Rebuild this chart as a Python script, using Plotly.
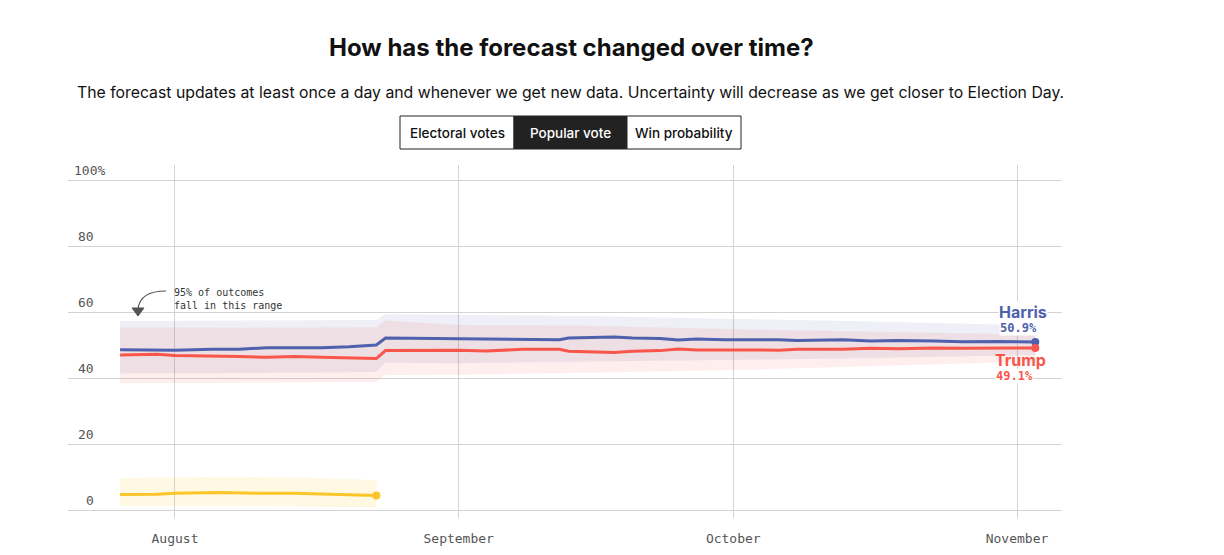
import plotly.graph_objects as go


# ---- data ----
line_dates = [
    "2024-07-26", "2024-07-30", "2024-08-01", "2024-08-05", "2024-08-08",
    "2024-08-11", "2024-08-14", "2024-08-17", "2024-08-20", "2024-08-23",
    "2024-08-24", "2024-08-27", "2024-09-01", "2024-09-04", "2024-09-08",
    "2024-09-12", "2024-09-13", "2024-09-18", "2024-09-20", "2024-09-23",
    "2024-09-25", "2024-09-27", "2024-09-30", "2024-10-03", "2024-10-06",
    "2024-10-08", "2024-10-13", "2024-10-16", "2024-10-19", "2024-10-23",
    "2024-10-26", "2024-10-30", "2024-11-03",
]
harris = [
    48.6, 48.5, 48.4, 48.7, 48.7, 49.2, 49.1, 49.2, 49.5, 50.0,
    52.1, 52.0, 51.8, 51.9, 51.6, 51.6, 52.1, 52.4, 52.1, 52.0,
    51.5, 51.8, 51.6, 51.7, 51.6, 51.4, 51.6, 51.2, 51.4, 51.2,
    51.0, 51.1, 50.9,
]
trump = [
    47.0, 47.2, 46.8, 46.7, 46.5, 46.3, 46.5, 46.3, 46.2, 45.9,
    48.3, 48.4, 48.4, 48.2, 48.7, 48.7, 48.1, 47.7, 48.1, 48.3,
    48.8, 48.5, 48.6, 48.5, 48.4, 48.7, 48.7, 49.0, 48.9, 49.1,
    49.0, 49.1, 49.1,
]

band_dates = [
    "2024-07-26", "2024-08-08", "2024-08-23", "2024-08-24", "2024-09-01",
    "2024-09-15", "2024-10-01", "2024-10-15", "2024-11-03",
]
harris_hi = [57.3, 57.5, 57.6, 59.3, 59.1, 58.8, 57.9, 57.2, 55.9]
harris_lo = [41.4, 41.5, 41.8, 44.6, 44.5, 44.8, 45.5, 46.0, 47.0]
trump_hi = [55.3, 55.2, 55.4, 57.4, 56.1, 55.8, 54.8, 54.2, 53.2]
trump_lo = [38.4, 38.6, 38.8, 40.9, 41.0, 41.6, 42.4, 43.5, 45.0]

other_dates = [
    "2024-07-26", "2024-07-30", "2024-08-01", "2024-08-06", "2024-08-10",
    "2024-08-14", "2024-08-19", "2024-08-22", "2024-08-23",
]
other = [4.7, 4.8, 5.1, 5.3, 5.1, 5.1, 4.7, 4.5, 4.4]
other_band_dates = ["2024-07-26", "2024-08-06", "2024-08-15", "2024-08-23"]
other_hi = [9.6, 10.1, 9.8, 9.1]
other_lo = [1.2, 1.3, 1.1, 0.8]

month_ticks = ["2024-08-01", "2024-09-01", "2024-10-01", "2024-11-01"]
month_labels = ["August", "September", "October", "November"]
y_ticks = [0, 20, 40, 60, 80, 100]
y_labels = ["0", "20", "40", "60", "80", "100%"]

TITLE = "How has the forecast changed over time?"
SUBTITLE = ("The forecast updates at least once a day and whenever we get new data. "
            "Uncertainty will decrease as we get closer to Election Day.")
BUTTONS = ["Electoral votes", "Popular vote", "Win probability"]

# ---- style ----
BLUE = "#4F61AC"
RED = "#F9564B"
YELLOW = "#FBC52A"
GRID = "#d3d3d3"
MONO = "DejaVu Sans Mono"
SANS = "Inter, Roboto, Arial, sans-serif"

OFF = 8  # page body margin
W, H = 1224 - 2 * OFF, 555 - OFF
# plot area in page pixels: x 68..1062, y 165..518
L, T = 68 - OFF, 165 - OFF
R = W - (1062 - OFF)
B = H - (518 - OFF)
PW, PH = W - L - R, H - T - B


def px(x, y):
    # page pixel -> paper coords
    return (x - OFF - L) / PW, (T + PH - (y - OFF)) / PH


def band(dates, hi, lo, color):
    return go.Scatter(
        x=dates + dates[::-1], y=hi + lo[::-1],
        fill="toself", fillcolor=color, line=dict(width=0),
        mode="lines", hoverinfo="skip", showlegend=False,
    )


fig = go.Figure()
fig.add_trace(band(band_dates, harris_hi, harris_lo, "rgba(84,100,176,0.10)"))
fig.add_trace(band(band_dates, trump_hi, trump_lo, "rgba(242,90,80,0.10)"))
fig.add_trace(band(other_band_dates, other_hi, other_lo, "rgba(252,200,40,0.13)"))

for xs, ys, col in [(line_dates, harris, BLUE), (line_dates, trump, RED),
                    (other_dates, other, YELLOW)]:
    fig.add_trace(go.Scatter(
        x=xs, y=ys, mode="lines", line=dict(color=col, width=3),
        showlegend=False, hoverinfo="skip",
    ))
    fig.add_trace(go.Scatter(
        x=[xs[-1]], y=[ys[-1]], mode="markers",
        marker=dict(color=col, size=8), showlegend=False, hoverinfo="skip",
    ))

annotations = []
shapes = []

# title / subtitle
x0, y0 = px(571, 47)
annotations.append(dict(x=x0, y=y0, text="<b>%s</b>" % TITLE,
                        font=dict(family=SANS, size=24, color="#111")))
x0, y0 = px(570, 92)
annotations.append(dict(x=x0, y=y0, text=SUBTITLE,
                        font=dict(family=SANS, size=15.8, color="#111")))

# toggle buttons
edges = [400, 514, 627, 741]
for i, label in enumerate(BUTTONS):
    a, b_ = px(edges[i], 116)
    c, d = px(edges[i + 1], 149)
    active = i == 1
    shapes.append(dict(type="rect", xref="paper", yref="paper",
                       x0=a, x1=c, y0=d, y1=b_,
                       line=dict(color="#222", width=1),
                       fillcolor="#222" if active else "white", layer="above"))
    cx, cy = px((edges[i] + edges[i + 1]) / 2, 133)
    annotations.append(dict(x=cx, y=cy, text=label,
                            font=dict(family=SANS, size=13.5, weight=500,
                                      color="white" if active else "#111")))

# y labels sitting above the gridlines
for v, lab in zip(y_ticks, y_labels):
    if lab.endswith("%"):
        xa, _ = px(72, 0)
        anchor = "left"
    else:
        xa, _ = px(96, 0)
        anchor = "right"
    annotations.append(dict(x=xa, y=v, yref="y", yshift=10, text=lab,
                            xanchor=anchor,
                            font=dict(family=MONO, size=13, color="#555")))

# "95% of outcomes" note with curved arrow
nx, ny = px(172, 299)
annotations.append(dict(x=nx, y=ny, text="95% of outcomes<br>fall in this range",
                        xanchor="left", align="left",
                        font=dict(family=MONO, size=10, color="#333")))
p = [px(166, 291), px(140, 291), px(138, 309)]
shapes.append(dict(type="path", xref="paper", yref="paper",
                   path="M %f,%f Q %f,%f %f,%f" % (p[0] + p[1] + p[2]),
                   line=dict(color="#555", width=1.2)))
t = [px(132, 308), px(144, 308), px(138, 316)]
shapes.append(dict(type="path", xref="paper", yref="paper",
                   path="M %f,%f L %f,%f L %f,%f Z" % (t[0] + t[1] + t[2]),
                   fillcolor="#555", line=dict(color="#555", width=1)))

# end labels
for (lx, ly, txt, fam, size, col, bg) in [
    (1023, 312, "<b>Harris</b>", SANS, 16, BLUE, "white"),
    (1018, 328, "<b>%.1f%%</b>" % harris[-1], MONO, 12, BLUE, "white"),
    (1020, 360, "<b>Trump</b>", SANS, 16, RED, "rgba(0,0,0,0)"),
    (1014, 376, "<b>%.1f%%</b>" % trump[-1], MONO, 12, RED, "white"),
]:
    ax, ay = px(lx, ly)
    annotations.append(dict(x=ax, y=ay, text=txt, bgcolor=bg, borderpad=0,
                            font=dict(family=fam, size=size, color=col)))

for a in annotations:
    a.setdefault("xref", "paper")
    a.setdefault("yref", "paper")
    a.setdefault("showarrow", False)
    a.setdefault("xanchor", "center")
    a.setdefault("yanchor", "middle")

fig.update_layout(
    width=W, height=H,
    margin=dict(l=L, r=R, t=T, b=B, autoexpand=False),
    paper_bgcolor="white", plot_bgcolor="white",
    showlegend=False,
    annotations=annotations,
    shapes=shapes,
)
fig.update_xaxes(
    type="date",
    range=["2024-07-20 07:26", "2024-11-05 22:00"],
    tickvals=month_ticks, ticktext=month_labels,
    showgrid=True, gridcolor=GRID, gridwidth=1,
    ticks="outside", ticklen=8, tickcolor="rgba(0,0,0,0)",
    tickfont=dict(family=MONO, size=13, color="#555"),
    showline=False, zeroline=False, automargin=False,
)
fig.update_yaxes(
    range=[-2.42, 104.55],
    tickvals=y_ticks, showticklabels=False,
    showgrid=True, gridcolor=GRID, gridwidth=1,
    zeroline=False, showline=False, automargin=False,
)

fig.write_html("out.html")
